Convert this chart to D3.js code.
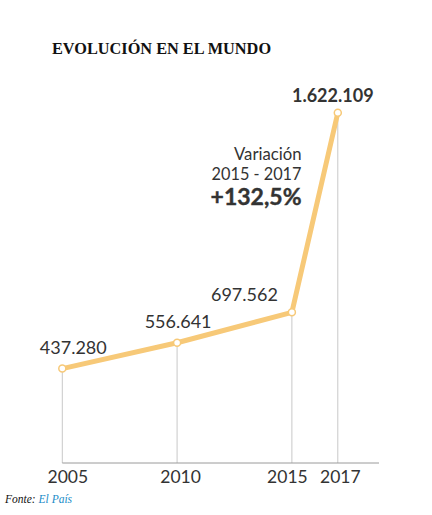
<!DOCTYPE html>
<html><head><meta charset="utf-8">
<script src="https://cdn.jsdelivr.net/npm/d3@7"></script>
<style>body{margin:0;background:#fff}svg{display:block}</style>
</head><body>
<script>
const years = [2005, 2010, 2015, 2017];
const values = [437280, 556641, 697562, 1622109];
const valueLabels = ["437.280", "556.641", "697.562", "1.622.109"];
const tickLabels = ["2005", "2010", "2015", "2017"];
const titleText = "EVOLUCIÓN EN EL MUNDO";
const noteLines = ["Variación", "2015 - 2017", "+132,5%"];

const W = 432, H = 515;
const svg = d3.select("body").append("svg").attr("width", W).attr("height", H);
const x = d3.scaleLinear().domain([2005, 2017]).range([62.3, 337.8]);
const y = d3.scaleLinear().domain([0, 1622109]).range([463, 112.7]);
const data = years.map((yr, i) => ({yr, v: values[i], lab: valueLabels[i]}));
const sans = "Lato, 'Open Sans', sans-serif";

svg.append("text").attr("x", 52).attr("y", 53.5)
  .attr("font-family", "'Liberation Serif', serif").attr("font-weight", "bold")
  .attr("font-size", 16.3).attr("fill", "#111").text(titleText);

// gridlines
svg.selectAll(".grid").data(data).join("line")
  .attr("x1", d => x(d.yr)).attr("x2", d => x(d.yr))
  .attr("y1", d => y(d.v)).attr("y2", y(0))
  .attr("stroke", "#c8c8c8").attr("stroke-width", 1);

// axis
const tickShift = [5, 3, -5, 2];
const axis = d3.axisBottom(x).tickValues(years).tickFormat((d, i) => tickLabels[i]).tickSize(0).tickPadding(6);
const g = svg.append("g").attr("transform", `translate(0,${y(0)})`).call(axis);
g.select(".domain").remove();
g.append("line").attr("x1", x(2005)).attr("x2", 379).attr("stroke", "#9a9a9a").attr("stroke-width", 1);
g.selectAll(".tick text").attr("font-family", sans).attr("font-size", 17.5).attr("fill", "#333")
  .attr("dy", "0.8em").attr("dx", (d, i) => tickShift[i]);

// line
svg.append("path").datum(data)
  .attr("d", d3.line().x(d => x(d.yr)).y(d => y(d.v)))
  .attr("fill", "none").attr("stroke", "#f7c978").attr("stroke-width", 5)
  .attr("stroke-linejoin", "round");

svg.selectAll(".pt").data(data).join("circle")
  .attr("cx", d => x(d.yr)).attr("cy", d => y(d.v)).attr("r", 3.5)
  .attr("fill", "#fff").attr("stroke", "#f7c978").attr("stroke-width", 1.5);

// value labels
const labPos = [
  {dx: 11, dy: -15, anchor: "middle", bold: false},
  {dx: 1, dy: -15, anchor: "middle", bold: false},
  {dx: -14, dy: -11, anchor: "end", bold: false},
  {dx: -5, dy: -11, anchor: "middle", bold: true}
];
svg.selectAll(".vl").data(data).join("text")
  .attr("x", (d, i) => x(d.yr) + labPos[i].dx)
  .attr("y", (d, i) => y(d.v) + labPos[i].dy)
  .attr("text-anchor", (d, i) => labPos[i].anchor)
  .attr("font-family", sans)
  .attr("font-weight", (d, i) => labPos[i].bold ? "bold" : "normal")
  .attr("font-size", 18)
  .attr("fill", "#333").text(d => d.lab);

// note
const nx = 301.5;
svg.append("text").attr("x", nx).attr("y", 160).attr("text-anchor", "end")
  .attr("font-family", sans).attr("font-size", 16.7).attr("fill", "#333").text(noteLines[0]);
svg.append("text").attr("x", nx).attr("y", 179.5).attr("text-anchor", "end")
  .attr("font-family", sans).attr("font-size", 16.3).attr("fill", "#333").text(noteLines[1]);
svg.append("text").attr("x", nx).attr("y", 205).attr("text-anchor", "end")
  .attr("font-family", sans).attr("font-weight", "bold").attr("font-size", 23).attr("fill", "#333")
  .attr("stroke", "#333").attr("stroke-width", 0.4).text(noteLines[2]);

// source
const src = svg.append("text").attr("x", 5).attr("y", 502.5)
  .attr("font-family", "'Liberation Serif', serif").attr("font-style", "italic").attr("font-size", 11.5);
src.append("tspan").attr("fill", "#111").text("Fonte: ");
src.append("tspan").attr("fill", "#1a8cc8").text("El País");
</script>
</body></html>
